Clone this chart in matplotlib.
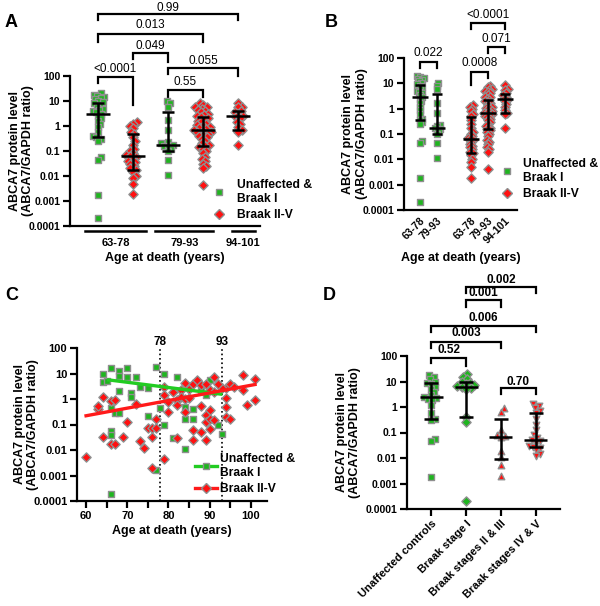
import numpy as np
import matplotlib
matplotlib.use("Agg")
import matplotlib.pyplot as plt
from matplotlib.lines import Line2D

plt.rcParams['font.family'] = ['Liberation Sans', 'DejaVu Sans']
plt.rcParams['font.weight'] = 'bold'

GREEN = '#1fb51f'
RED = '#ff1010'
EDGE = '#8f8f8f'

yticks = [1e-4, 1e-3, 1e-2, 1e-1, 1, 10, 100]
ytick_labels = ['0.0001', '0.001', '0.01', '0.1', '1', '10', '100']

# panel A / B: ABCA7 level per age group
a_green_63_78 = [20, 18, 16, 15, 13, 12, 10, 9, 8, 7, 6, 5, 4.5, 4, 3.5, 3, 2.5, 2, 1.6, 1.2,
                 0.9, 0.6, 0.4, 0.35, 0.3, 0.25, 0.055, 0.045, 0.0018, 0.0002]
a_red_63_78 = [1.4, 1.2, 1.0, 0.8, 0.6, 0.5, 0.35, 0.25, 0.18, 0.12, 0.1, 0.08, 0.07, 0.065,
               0.06, 0.05, 0.04, 0.035, 0.03, 0.025, 0.02, 0.018, 0.015, 0.01, 0.008, 0.005, 0.0019]
a_green_79_93 = [10, 8, 6, 1.7, 0.7, 0.22, 0.2, 0.17, 0.16, 0.15, 0.12, 0.1, 0.045, 0.011]
a_red_79_93 = [8, 7, 6, 5.5, 5, 4.5, 4, 3.5, 3, 2.8, 2.5, 2.2, 2, 1.8, 1.6, 1.4, 1.2, 1.1, 1.0,
               0.9, 0.8, 0.75, 0.7, 0.65, 0.6, 0.55, 0.5, 0.45, 0.4, 0.35, 0.3, 0.25, 0.2, 0.18,
               0.16, 0.14, 0.12, 0.1, 0.08, 0.06, 0.05, 0.04, 0.03, 0.025, 0.02, 0.0043]
a_red_94_101 = [8.5, 6, 5.5, 4, 3.5, 3, 2.5, 2.3, 2, 1.5, 1.2, 0.9, 0.7, 0.6, 0.17]

# median and interquartile range, order: g63-78, r63-78, g79-93, r79-93, r94-101
a_median = [3.0, 0.065, 0.17, 0.7, 2.5]
a_q1 = [0.35, 0.017, 0.1, 0.16, 0.7]
a_q3 = [8.5, 0.48, 3.8, 2.2, 3.9]

age_groups = ['63-78', '79-93', '94-101']
b_labels = ['63-78', '79-93', '63-78', '79-93', '94-101']

# panel C: value vs age at death
c_green_age = [64, 66, 64, 65, 68, 68, 70, 70, 72, 73, 71, 71, 68, 75, 77, 79, 78, 79, 77, 66,
               66, 66, 66, 67, 68, 75, 82, 81, 84, 84, 84, 86, 86, 88, 90, 89, 92, 93]
c_green_val = [10, 16, 4.8, 5, 12, 8, 16, 7.6, 7, 3, 1.7, 1.2, 2.1, 2.6, 18.6, 9.5, 0.43, 0.1,
               0.0017, 0.00018, 0.057, 0.04, 0.43, 0.29, 0.29, 0.21, 7, 0.029, 0.47, 0.16, 0.011,
               0.4, 0.16, 2.2, 5.6, 1.5, 0.095, 0.041]
c_red_age = [60, 63, 63, 64, 66, 67, 64, 66, 67, 69, 70, 72, 73, 74, 75, 76, 76, 77, 77, 76, 79,
             79, 79, 80, 80, 81, 82, 82, 83, 83, 82, 84, 84, 84, 85, 85, 86, 87, 86, 86, 88, 88,
             88, 89, 89, 89, 89, 90, 90, 90, 90, 91, 91, 91, 94, 94, 94, 94, 95, 96, 95, 98, 98,
             99, 101, 101, 93, 92]
c_red_val = [0.0055, 0.42, 0.54, 1.2, 0.85, 0.9, 0.033, 0.017, 0.017, 0.033, 0.12, 0.63, 0.023,
             0.012, 0.076, 0.076, 0.033, 0.17, 0.07, 0.0019, 0.0043, 2.9, 1.4, 0.79, 0.32, 1.9,
             0.9, 0.58, 2.2, 1.2, 0.029, 4.3, 0.98, 0.32, 2.4, 1.07, 4, 5.6, 0.06, 0.025, 3.6,
             0.53, 0.052, 4, 0.24, 0.12, 0.025, 2.2, 0.37, 0.17, 0.064, 7.6, 1.8, 0.15, 2.6, 1.07,
             0.5, 0.2, 4, 3, 0.17, 8.7, 2.2, 0.58, 5.9, 0.92, 2.8, 4]
c_green_fit_age = [65.5, 92.7]
c_green_fit_val = [5.6, 1.55]
c_red_fit_age = [60, 101]
c_red_fit_val = [0.22, 3.7]
c_cutoffs = [78, 93]

# panel D: by Braak stage
d_labels = ['Unaffected controls', 'Braak stage I', 'Braak stages II & III', 'Braak stages IV & V']
d_ctrl = [18, 15, 12, 10, 9, 8, 6, 5, 4, 3, 2.5, 2.2, 2, 1.8, 1.2, 0.6, 0.35, 0.3, 0.055, 0.045, 0.0018]
d_braak1 = [19, 15, 12, 10, 9, 8, 7, 6.5, 6, 5.5, 5, 0.4, 0.25, 0.0002]
d_braak23 = [0.89, 0.66, 0.13, 0.08, 0.075, 0.069, 0.018, 0.011, 0.0054, 0.002]
d_braak45 = [1.3, 1.1, 0.9, 0.7, 0.6, 0.35, 0.2, 0.12, 0.08, 0.06, 0.05, 0.045, 0.04, 0.03,
             0.028, 0.025, 0.02, 0.015, 0.012]
d_median = [2.4, 6.3, 0.068, 0.05]
d_q1 = [0.33, 0.42, 0.009, 0.026]
d_q3 = [8.5, 10, 0.34, 0.6]

W, H = 600, 606
fig = plt.figure(figsize=(W / 100, H / 100), dpi=100)


def ax_at(l, t, r, b):
    return fig.add_axes([l / W, 1 - b / H, (r - l) / W, (b - t) / H])


def style(ax, size=7.5):
    for s in ('top', 'right'):
        ax.spines[s].set_visible(False)
    for s in ('left', 'bottom'):
        ax.spines[s].set_linewidth(1.6)
    ax.set_yscale('log')
    ax.set_ylim(1e-4, 100)
    ax.set_yticks(yticks)
    ax.set_yticklabels(ytick_labels)
    ax.yaxis.set_minor_locator(matplotlib.ticker.NullLocator())
    ax.tick_params(width=1.6, length=5, labelsize=size, pad=2)


def swarm(ax, vals, xc, d):
    # simple beeswarm in pixel space
    pts = ax.transData.transform(np.column_stack([np.full(len(vals), xc), vals]))
    ys = pts[:, 1]
    x0 = pts[0, 0]
    placed = []
    xs = np.zeros(len(vals))
    for i in np.argsort(ys):
        cands = [0.0]
        for px, py in placed:
            dy = ys[i] - py
            if abs(dy) < d:
                dx = np.sqrt(d * d - dy * dy)
                cands += [px + dx, px - dx]
        cands.sort(key=abs)
        for c in cands:
            if all((c - px) ** 2 + (ys[i] - py) ** 2 >= d * d - 1e-6 for px, py in placed):
                break
        placed.append((c, ys[i]))
        xs[i] = c
    inv = ax.transData.inverted()
    return inv.transform(np.column_stack([x0 + xs, ys]))[:, 0]


def dots(ax, vals, xc, color, marker, d):
    s = 24 if marker == 's' else 22
    xs = swarm(ax, vals, xc, d)
    ax.scatter(xs, vals, s=s, marker=marker, c=color, edgecolors=EDGE, linewidths=1.0, zorder=3, clip_on=False)


def summary(ax, x, med, lo, hi, mw, cw):
    ax.vlines(x, lo, hi, color='k', lw=1.8, zorder=5)
    ax.hlines([lo, hi], x - cw, x + cw, color='k', lw=1.8, zorder=5)
    ax.hlines(med, x - mw, x + mw, color='k', lw=1.8, zorder=5)


def bracket(ax, x1, x2, y, yl1, yl2, txt, ty, bold=False):
    tr = ax.get_xaxis_transform()
    ax.plot([x1, x1, x2, x2], [yl1, y, y, yl2], color='k', lw=1.6, transform=tr,
            clip_on=False, solid_joinstyle='miter')
    ax.text((x1 + x2) / 2, ty, txt, transform=tr, ha='center', va='center', fontsize=8.5,
            fontweight='bold' if bold else 'normal')


def two_line_ylabel(ax, xpos):
    ax.set_ylabel('ABCA7 protein level\n(ABCA7/GAPDH ratio)', fontsize=9, fontweight='bold',
                  linespacing=1.15)
    ax.yaxis.set_label_coords(xpos, 0.5)


sq_handle = Line2D([], [], ls='none', marker='s', ms=5, mfc=GREEN, mec=EDGE, mew=1)
di_handle = Line2D([], [], ls='none', marker='D', ms=4.6, mfc=RED, mec=EDGE, mew=1)
legend_labels = ['Unaffected &\nBraak I', 'Braak II-V']
legend_font = {'weight': 'bold', 'size': 8.7}

# ---------------- A ----------------
axA = ax_at(70, 76, 260, 226)
style(axA)
axA.set_xlim(-0.8, 4.63)
axA.tick_params(axis='x', length=0, labelbottom=False)
groupsA = [(a_green_63_78, GREEN, 's'), (a_red_63_78, RED, 'D'), (a_green_79_93, GREEN, 's'),
           (a_red_79_93, RED, 'D'), (a_red_94_101, RED, 'D')]
for i, (vals, col, mk) in enumerate(groupsA):
    dots(axA, vals, i, col, mk, 4.0)
    summary(axA, i, a_median[i], a_q1[i], a_q3[i], 0.33, 0.17)

tr = axA.get_xaxis_transform()
for (x1, x2), lab in zip([(-0.37, 1.37), (1.63, 3.3), (3.82, 4.49)], age_groups):
    axA.plot([x1, x2], [-0.033, -0.033], color='k', lw=1.8, transform=tr, clip_on=False)
    axA.text((x1 + x2) / 2, -0.113, lab, transform=tr, ha='center', va='center', fontsize=8)
axA.text(0.5, -0.213, 'Age at death (years)', transform=axA.transAxes, ha='center',
         va='center', fontsize=9)
two_line_ylabel(axA, -0.19)

bracket(axA, 0, 1, 0.993, 0.953, 0.807, '<0.0001', 1.047)
bracket(axA, 2, 3, 0.907, 0.862, 0.862, '0.55', 0.958)
bracket(axA, 2, 4, 1.051, 1.013, 1.0, '0.055', 1.1)
bracket(axA, 1, 2, 1.151, 1.111, 1.095, '0.049', 1.2)
bracket(axA, 0, 3, 1.282, 1.227, 1.227, '0.013', 1.34)
bracket(axA, 0, 4, 1.413, 1.373, 1.373, '0.99', 1.455)

axA.legend([sq_handle, di_handle], legend_labels, loc='upper left',
           bbox_to_anchor=(213 / W, 1 - 179 / H), bbox_transform=fig.transFigure,
           frameon=False, prop=legend_font, handlelength=1.0,
           handletextpad=1.0, labelspacing=0.35, borderpad=0, borderaxespad=0)

# ---------------- B ----------------
axB = ax_at(404, 58, 517, 210)
style(axB)
axB.set_xlim(-0.94, 5.7)
posB = [0, 1, 3, 4, 5]
orderB = [0, 2, 1, 3, 4]
for p, gi in zip(posB, orderB):
    vals, col, mk = groupsA[gi]
    dots(axB, vals, p, col, mk, 2.8)
    summary(axB, p, a_median[gi], a_q1[gi], a_q3[gi], 0.47, 0.3)
axB.set_xticks(posB)
axB.set_xticklabels(b_labels, rotation=45, ha='right', rotation_mode='anchor', fontsize=7.5)
axB.tick_params(axis='x', length=0, pad=4)
axB.text(0.5, -0.316, 'Age at death (years)', transform=axB.transAxes, ha='center',
         va='center', fontsize=9)
two_line_ylabel(axB, -0.32)

bracket(axB, 0, 1, 0.976, 0.932, 0.932, '0.022', 1.031)
bracket(axB, 3, 4, 0.91, 0.822, 0.866, '0.0008', 0.965)
bracket(axB, 4, 5, 1.07, 1.03, 1.03, '0.071', 1.123)
bracket(axB, 3, 5, 1.228, 1.189, 1.189, '<0.0001', 1.283)

axB.legend([sq_handle, di_handle], legend_labels, loc='upper left',
           bbox_to_anchor=(501 / W, 1 - 158 / H), bbox_transform=fig.transFigure,
           frameon=False, prop=legend_font, handlelength=1.0,
           handletextpad=0.8, labelspacing=0.35, borderpad=0, borderaxespad=0)

# ---------------- C ----------------
axC = ax_at(77, 348, 267, 501)
style(axC, size=8)
axC.set_xlim(57.8, 103.9)
axC.set_xticks([60, 70, 80, 90, 100])
axC.set_xticks([65, 75, 85, 95], minor=True)
axC.tick_params(axis='x', which='minor', width=1.6, length=5)
axC.scatter(c_green_age, c_green_val, s=24, marker='s', c=GREEN, edgecolors=EDGE,
            linewidths=1.0, zorder=3, clip_on=False)
axC.scatter(c_red_age, c_red_val, s=22, marker='D', c=RED, edgecolors=EDGE,
            linewidths=1.0, zorder=3, clip_on=False)
axC.plot(c_green_fit_age, c_green_fit_val, color='#22cc22', lw=2.4, zorder=4)
axC.plot(c_red_fit_age, c_red_fit_val, color='#ff1a1a', lw=2.4, zorder=4)
for a in c_cutoffs:
    axC.axvline(a, color='k', ls=':', lw=1.2, zorder=2)
    axC.text(a, 1.04, str(a), transform=axC.get_xaxis_transform(), ha='center', va='center',
             fontsize=8.5)
axC.set_xlabel('Age at death (years)', fontsize=9, fontweight='bold', labelpad=3)
two_line_ylabel(axC, -0.2)

gl = Line2D([], [], color='#22cc22', lw=2.4, marker='s', ms=5, mfc=GREEN, mec=EDGE, mew=1)
rl = Line2D([], [], color='#ff1a1a', lw=2.4, marker='D', ms=4.6, mfc=RED, mec=EDGE, mew=1)
axC.legend([gl, rl], legend_labels, loc='upper left',
           bbox_to_anchor=(195 / W, 1 - 453 / H), bbox_transform=fig.transFigure,
           frameon=False, prop=legend_font, handlelength=1.8,
           handletextpad=0.3, labelspacing=0.35, borderpad=0, borderaxespad=0)

# ---------------- D ----------------
axD = ax_at(407, 356, 560, 509)
style(axD)
axD.set_xlim(-0.69, 3.69)
groupsD = [(d_ctrl, GREEN, 's'), (d_braak1, GREEN, 'D'), (d_braak23, RED, '^'), (d_braak45, RED, 'v')]
for i, (vals, col, mk) in enumerate(groupsD):
    dots(axD, vals, i, col, mk, 4.6)
    summary(axD, i, d_median[i], d_q1[i], d_q3[i], 0.33, 0.19)
axD.set_xticks(range(4))
axD.set_xticklabels(d_labels, rotation=45, ha='right', rotation_mode='anchor', fontsize=8)
two_line_ylabel(axD, -0.3)

bracket(axD, 0, 1, 0.987, 0.954, 0.935, '0.52', 1.039, bold=True)
bracket(axD, 2, 3, 0.791, 0.752, 0.752, '0.70', 0.83, bold=True)
bracket(axD, 0, 2, 1.092, 1.052, 1.052, '0.003', 1.15, bold=True)
bracket(axD, 0, 3, 1.196, 1.157, 1.157, '0.006', 1.248, bold=True)
bracket(axD, 1, 2, 1.366, 1.32, 1.32, '0.001', 1.412, bold=True)
bracket(axD, 1, 3, 1.451, 1.412, 1.412, '0.002', 1.497, bold=True)

# panel letters
for lab, x, y in [('A', 5, 14), ('B', 325, 14), ('C', 5, 287), ('D', 323, 287)]:
    fig.text(x / W, 1 - y / H, lab, fontsize=13, fontweight='bold', va='top', ha='left')

fig.savefig('out.png', dpi=100)
